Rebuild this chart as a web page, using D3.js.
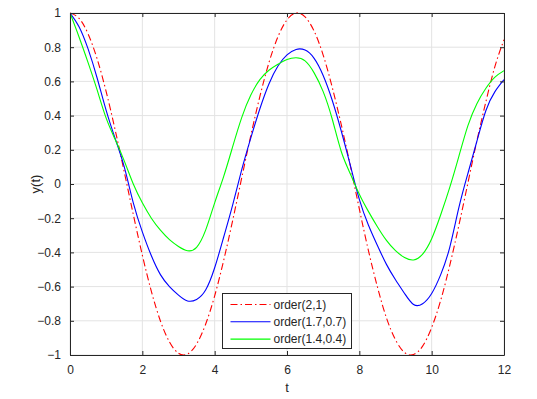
<!DOCTYPE html>
<html>
<head>
<meta charset="utf-8">
<script src="https://cdn.jsdelivr.net/npm/d3@7"></script>
<style>
  body { margin: 0; background: #fff; }
  svg { font-family: "Liberation Sans", Arial, sans-serif; }
</style>
</head>
<body>
<div id="chart"></div>
<script>
// sample times
const tValues = [
  0, 0.25, 0.5, 0.75, 1, 1.25, 1.5, 1.75, 2, 2.25, 2.5, 2.75, 3, 3.25, 3.5, 3.75,
  4, 4.25, 4.5, 4.75, 5, 5.25, 5.5, 5.75, 6, 6.25, 6.5, 6.75, 7, 7.25, 7.5, 7.75,
  8, 8.25, 8.5, 8.75, 9, 9.25, 9.5, 9.75, 10, 10.25, 10.5, 10.75, 11, 11.25, 11.5, 11.75, 12
];

// order(2,1)
const order21 = [
  1.000, 0.969, 0.878, 0.732, 0.540, 0.315, 0.071, -0.178, -0.416, -0.628, -0.801, -0.924,
  -0.990, -0.994, -0.936, -0.820, -0.654, -0.446, -0.211, 0.038, 0.284, 0.512, 0.709, 0.861,
  0.960, 1.000, 0.977, 0.894, 0.754, 0.566, 0.347, 0.108, -0.146, -0.388, -0.602, -0.783,
  -0.911, -0.985, -0.997, -0.948, -0.839, -0.680, -0.476, -0.244, 0.004, 0.252, 0.482, 0.688, 0.844
];

// order(1.7,0.7)
const order17 = [
  1.00, 0.92, 0.79, 0.62, 0.43, 0.265, 0.10, -0.11, -0.28, -0.42, -0.53, -0.60,
  -0.65, -0.684, -0.675, -0.62, -0.49, -0.31, -0.12, 0.085, 0.27, 0.44, 0.585, 0.69,
  0.755, 0.787, 0.783, 0.735, 0.635, 0.49, 0.31, 0.11, -0.09, -0.24, -0.36, -0.47,
  -0.56, -0.64, -0.705, -0.70, -0.64, -0.53, -0.37, -0.14, 0.06, 0.25, 0.43, 0.54, 0.61
];

// order(1.4,0.4)
const order14 = [
  1.00, 0.86, 0.71, 0.55, 0.385, 0.26, 0.135, 0.00, -0.11, -0.20, -0.27, -0.325,
  -0.365, -0.39, -0.37, -0.27, -0.11, 0.045, 0.22, 0.39, 0.52, 0.61, 0.665, 0.70,
  0.728, 0.738, 0.72, 0.65, 0.54, 0.38, 0.19, 0.06, -0.06, -0.16, -0.25, -0.33,
  -0.39, -0.43, -0.444, -0.41, -0.32, -0.18, -0.02, 0.16, 0.34, 0.47, 0.56, 0.625, 0.663
];

const xTicks = [0, 2, 4, 6, 8, 10, 12];
const yTicks = [-1, -0.8, -0.6, -0.4, -0.2, 0, 0.2, 0.4, 0.6, 0.8, 1];

const series = [
  { name: "order(2,1)", values: order21, color: "#ff0000", dash: "7,3,1.5,3" },
  { name: "order(1.7,0.7)", values: order17, color: "#0000ff", dash: null },
  { name: "order(1.4,0.4)", values: order14, color: "#00ff00", dash: null },
];

const W = 537, H = 399;
const margin = { top: 13, right: 33, bottom: 44, left: 70 };
const width = W - margin.left - margin.right;
const height = H - margin.top - margin.bottom;

const svg = d3.select("#chart").append("svg")
  .attr("width", W).attr("height", H);
const g = svg.append("g")
  .attr("transform", `translate(${margin.left},${margin.top})`);

const x = d3.scaleLinear().domain([0, 12]).range([0, width]);
const y = d3.scaleLinear().domain([-1, 1]).range([height, 0]);

const axisColor = "#262626";

// grid
g.append("g").selectAll("line").data(xTicks).enter().append("line")
  .attr("x1", d => x(d)).attr("x2", d => x(d))
  .attr("y1", 0).attr("y2", height)
  .attr("stroke", "#e3e3e3").attr("stroke-width", 1);
g.append("g").selectAll("line").data(yTicks).enter().append("line")
  .attr("y1", d => y(d)).attr("y2", d => y(d))
  .attr("x1", 0).attr("x2", width)
  .attr("stroke", "#e3e3e3").attr("stroke-width", 1);

// lines
const line = d3.line()
  .x((d, i) => x(tValues[i]))
  .y(d => y(d))
  .curve(d3.curveNatural);

svg.append("defs").append("clipPath").attr("id", "clip")
  .append("rect").attr("width", width).attr("height", height + 1).attr("y", -1);

series.forEach(s => {
  g.append("path")
    .datum(s.values)
    .attr("clip-path", "url(#clip)")
    .attr("fill", "none")
    .attr("stroke", s.color)
    .attr("stroke-width", 1.1)
    .attr("stroke-dasharray", s.dash)
    .attr("d", line);
});

// axes (ticks pointing inward, boxed)
const styleAxis = sel => {
  sel.selectAll("path").attr("stroke", axisColor);
  sel.selectAll("line").attr("stroke", axisColor);
  sel.selectAll("text").attr("fill", axisColor).style("font-size", "12px");
};

g.append("g")
  .attr("transform", `translate(0,${height})`)
  .call(d3.axisBottom(x).tickValues(xTicks).tickSize(-4).tickSizeOuter(0).tickPadding(10))
  .call(styleAxis);
g.append("g")
  .call(d3.axisTop(x).tickValues(xTicks).tickSize(-4).tickSizeOuter(0).tickFormat(""))
  .call(styleAxis);
g.append("g")
  .call(d3.axisLeft(y).tickValues(yTicks).tickSize(-4).tickSizeOuter(0).tickPadding(9)
    .tickFormat(d => d3.format("")(+d.toFixed(1))))
  .call(styleAxis);
g.append("g")
  .attr("transform", `translate(${width},0)`)
  .call(d3.axisRight(y).tickValues(yTicks).tickSize(-4).tickSizeOuter(0).tickFormat(""))
  .call(styleAxis);

// axis labels
svg.append("text")
  .attr("x", margin.left + width / 2).attr("y", 392)
  .attr("text-anchor", "middle")
  .attr("fill", axisColor)
  .style("font-size", "13px")
  .text("t");

svg.append("text")
  .attr("transform", `translate(40,${margin.top + height / 2}) rotate(-90)`)
  .attr("text-anchor", "middle")
  .attr("fill", axisColor)
  .style("font-size", "13px")
  .text("y(t)");

// legend
const legend = svg.append("g").attr("transform", "translate(222.5,293.5)");
legend.append("rect")
  .attr("width", 129).attr("height", 55)
  .attr("fill", "#fff").attr("stroke", axisColor).attr("stroke-width", 1);

series.forEach((s, i) => {
  const ly = 11 + i * 17.3;
  legend.append("line")
    .attr("x1", 8).attr("x2", 48)
    .attr("y1", ly).attr("y2", ly)
    .attr("stroke", s.color).attr("stroke-width", 1.1)
    .attr("stroke-dasharray", s.dash);
  legend.append("text")
    .attr("x", 51).attr("y", ly + 4)
    .attr("fill", axisColor)
    .style("font-size", "12px")
    .text(s.name);
});
</script>
</body>
</html>
